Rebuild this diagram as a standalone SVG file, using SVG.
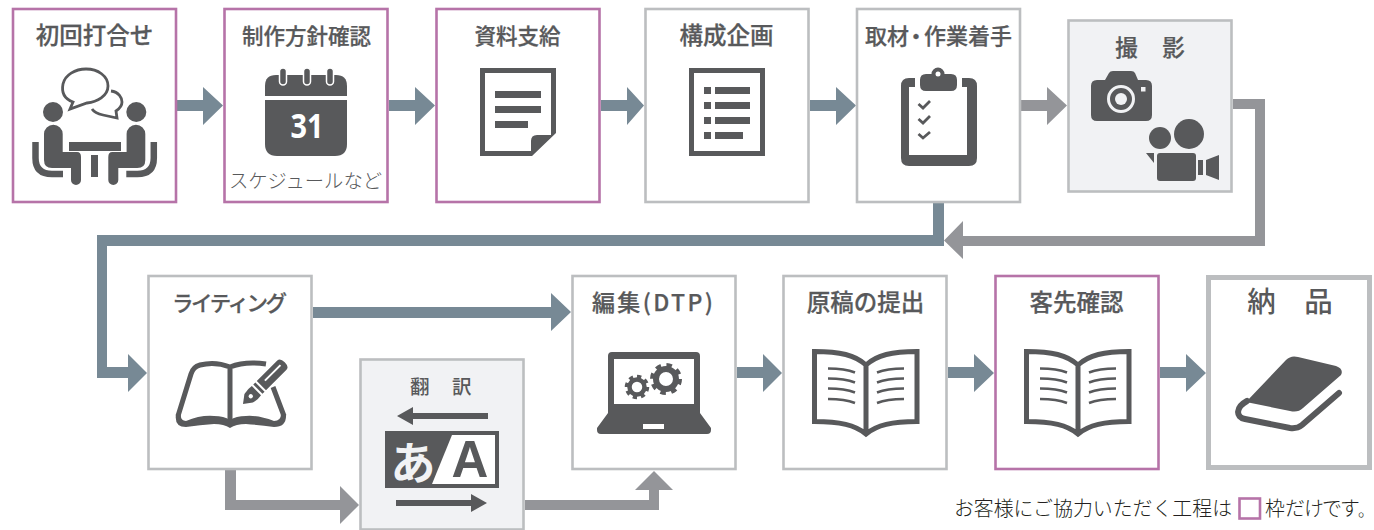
<svg xmlns="http://www.w3.org/2000/svg" xmlns:xlink="http://www.w3.org/1999/xlink" width="1374" height="530" viewBox="0 0 1374 530">
<style>
text{font-family:"Noto Sans CJK JP","Noto Sans",sans-serif;fill:#58595b;text-anchor:middle}
.t{font-size:21.5px;font-weight:500;stroke:#58595b;stroke-width:.25px}
.b{font-size:23.5px}
.box{fill:#fff;stroke-width:2.6}
.p{stroke:#b673a8}
.g{stroke:#bcbec0}
.s{fill:#f1f2f4}
.d{fill:#58595b}
.o{fill:none;stroke:#58595b}
.blue{fill:#778995}
.grey{fill:#949599}
</style>
<defs>
<symbol id="openbook" overflow="visible">
<path class="o" stroke-width="5" d="M866 365C855 355 840 351.500 814.500 351.500V421.500C840 421.500 855 425 866 434C877 425 892 421.500 917 421.500V351.500C892 351.500 877 355 866 365V434"/>
<path class="o" stroke-width="2.500" d="M828 368.500Q845 368.500 855 372.500M828 378.500Q845 378.500 855 382.500M828 388.500Q845 388.500 855 392.500M828 399Q845 399 855 403M904 368.500Q887 368.500 877 372.500M904 378.500Q887 378.500 877 382.500M904 388.500Q887 388.500 877 392.500M904 399Q887 399 877 403"/>
</symbol>
<g id="sitter">
<circle class="d" cx="53" cy="112" r="10"/>
<path class="d" d="M44 134a9.300 9.300 0 0 1 18.700 0V152H77Q81 152 81 157V180a5 5 0 0 1-10 0V168H52Q44 168 44 160Z"/>
<path class="o" stroke-width="6.500" d="M35.500 142V158Q35.500 174 52 174H63"/>
</g>
</defs>
<g id="connectors">
<path class="blue" d="M177 100H203V87L223 105.500L203 125V111H177Z"/>
<path class="blue" d="M389 100H415V87L435 105.500L415 125V111H389Z"/>
<path class="blue" d="M601 100H627V87L644 105.500L627 125V111H601Z"/>
<path class="blue" d="M810 100H836V87L856 105.500L836 125V111H810Z"/>
<path class="grey" d="M1021 100H1047V87L1067 105.500L1047 125V111H1021Z"/>
<path class="grey" d="M1233 99H1265V246H963V259L944 240.500L963 221V236H1255V109H1233Z"/>
<path class="blue" d="M933 203H944V246H107V367H128V354L147 373L128 392V378H97V235H933Z"/>
<path class="blue" d="M313 307H551V293L571 312L551 331V318H313Z"/>
<path class="grey" d="M225 470H236V500H340V486L359 505L340 524V510H225Z"/>
<path class="grey" d="M525 500H649V490H635L654 471L673 490H659V510H525Z"/>
<path class="blue" d="M737 367H763V354L782 373L763 392V378H737Z"/>
<path class="blue" d="M948 367H974V354L994 373L974 392V378H948Z"/>
<path class="blue" d="M1160 367H1186V354L1206 373L1186 392V378H1160Z"/>
</g>
<g id="n1">
<rect class="box p" x="13" y="9" width="163" height="193"/>
<text class="t b" x="94.500" y="44">初回打合せ</text>
<path class="o" stroke-width="2.800" d="M73 102C62 98 62 89 63 84C65 75 75 69 86 69C98 69 108 76 108 86C108 96 97 102 87 103L70 109Z"/>
<path class="o" stroke-width="2.800" d="M111 91C119 92 122 98 122 102C122 106 119 109 116 111L117 118L103 115C98 114 94 112 92 109"/>
<use xlink:href="#sitter"/>
<use xlink:href="#sitter" transform="translate(189.300) scale(-1 1)"/>
<rect class="d" x="69" y="142" width="52" height="9"/>
<rect class="d" x="91" y="155" width="7" height="22"/>
</g>
<g id="n2">
<rect class="box p" x="224.500" y="9" width="163" height="193"/>
<text class="t" x="306.500" y="44">制作方針確認</text>
<path class="d" d="M265 96V86Q265 75 276 75H336Q347 75 347 86V96Z"/>
<path class="d" d="M265 100H347V144Q347 156 335 156H277Q265 156 265 144Z"/>
<g fill="#58595b" stroke="#fff" stroke-width="1.500">
<rect x="279.500" y="68" width="7" height="17" rx="3.500"/>
<rect x="303.500" y="68" width="7" height="17" rx="3.500"/>
<rect x="326.500" y="68" width="7" height="17" rx="3.500"/>
</g>
<text x="307" y="138" textLength="33" lengthAdjust="spacingAndGlyphs" style="font-size:34px;font-weight:700;fill:#fff;font-family:'Open Sans',sans-serif">31</text>
<text x="305.500" y="188" style="font-size:19.300px;font-weight:300">スケジュールなど</text>
</g>
<g id="n3">
<rect class="box p" x="436.500" y="9" width="163" height="193"/>
<text class="t" x="517.500" y="44">資料支給</text>
<path class="d" fill-rule="evenodd" d="M480 68H556V133L532 156H480ZM485 73V151H531V141Q531 135 537 135H551V73Z"/>
<path class="d" d="M495 91H541V98H495ZM495 106H541V113H495ZM495 121H528V128H495Z"/>
</g>
<g id="n4">
<rect class="box g" x="645.500" y="9" width="163" height="193"/>
<text class="t b" x="726.500" y="44">構成企画</text>
<rect class="o" x="691.500" y="70.500" width="71" height="83" stroke-width="5"/>
<path class="d" d="M704 87h7v7h-7zM715 87h35v7h-35zM704 102h7v7h-7zM715 102h35v7h-35zM704 117h7v7h-7zM715 117h35v7h-35zM704 132h7v7h-7zM715 132h28v7h-28z"/>
</g>
<g id="n5">
<rect class="box g" x="857" y="9" width="163" height="193"/>
<text class="t" x="865 887 905 924 946 968 990" y="44" style="text-anchor:start;font-size:22px">取材・作業着手</text>
<path class="d" d="M915 78V87H909V155H967V87H962V78H969Q977 78 977 86V158Q977 166 969 166H909Q901 166 901 158V86Q901 78 909 78Z"/>
<path class="d" d="M926 74H931.500A6.500 6.500 0 0 1 944.500 74H951Q957 74 957 80V85Q957 91 951 91H926Q920 91 920 85V80Q920 74 926 74Z"/>
<circle cx="938" cy="74" r="2.500" fill="#fff"/>
<path class="o" stroke-width="2.800" d="M918.500 104L923 108L930 101M918.500 119L923 123L930 116M918.500 134L923 138L930 132"/>
</g>
<g id="n6">
<rect class="box g s" x="1068.500" y="20.500" width="163" height="171"/>
<text class="t" x="1150.500" y="56" style="font-size:22.500px;letter-spacing:1px">撮　影</text>
<path class="d" d="M1097 80H1105L1109 73Q1110 71 1113 71H1131Q1134 71 1135 73L1138 80H1146Q1152 80 1152 86V115Q1152 121 1146 121H1097Q1091 121 1091 115V86Q1091 80 1097 80Z"/>
<circle cx="1121" cy="99" r="12.500" fill="none" stroke="#f1f2f4" stroke-width="3"/>
<circle cx="1121" cy="99" r="6" fill="#f1f2f4"/>
<rect x="1141" y="87" width="4.500" height="4.500" fill="#f1f2f4"/>
<circle class="d" cx="1189" cy="134" r="15"/>
<circle class="d" cx="1160" cy="138" r="11"/>
<rect class="d" x="1157" y="153" width="39" height="28" rx="3"/>
<path class="d" d="M1146 153H1154V163ZM1198 160H1203V175H1198ZM1206 160L1219 155V180L1206 175Z"/>
</g>
<g id="n7">
<rect class="box g" x="148.500" y="276" width="163" height="193"/>
<text class="t" x="229.500" y="311" textLength="115" lengthAdjust="spacing">ライティング</text>
<path class="o" stroke-width="5" stroke-linejoin="round" d="M230 367Q215 361 200 365Q193 367 191 374L178 416M230 367Q245 361 266 364M230 367V424M273 387L284 416"/>
<path class="d" d="M176 414Q174 427 186 427Q200 425 214 424Q224 424 230 428Q236 424 246 424Q260 425 274 427Q287 427 286 414L281 414Q281 421 274 421Q258 415 246 416Q236 416 230 420Q224 416 214 416Q200 415 186 421Q180 421 181 414Z"/>
<g transform="translate(243 404) rotate(-45)">
<path class="d" d="M0 0L8 -6Q14 -7.500 19 -6.500V6.500Q14 7.500 8 6Z"/>
<circle cx="11" cy="0" r="2.200" fill="#fff"/>
<path class="d" d="M21 -6.500H24V6.500H21ZM26 -6.500H55Q59 -6.500 59 0Q59 6.500 55 6.500H26Z"/>
<rect x="32" y="-2" width="22" height="2" fill="#fff"/>
</g>
</g>
<g id="n8">
<rect class="box g s" x="360.500" y="359.500" width="163" height="170"/>
<text x="441.500" y="394" style="font-size:19.500px;font-weight:500;letter-spacing:1.500px">翻　訳</text>
<path class="d" d="M397 416L413 407V413H488V419H413V425Z"/>
<path class="d" d="M396 500H471V494L487 503L471 512V506H396Z"/>
<rect class="d" x="385" y="431" width="114" height="57"/>
<path d="M452 435H495V484H432Z" fill="#fff"/>
<text x="413" y="480" style="font-size:45px;font-weight:700;fill:#f1f2f4">あ</text>
<text x="470" y="477" style="font-size:51px;font-weight:700;font-family:'Liberation Sans',sans-serif">A</text>
</g>
<g id="n9">
<rect class="box g" x="572.500" y="276" width="163" height="193"/>
<text class="t" x="652.500" y="311" textLength="121" lengthAdjust="spacing" style="font-size:23px">編集(DTP)</text>
<path class="d" fill-rule="evenodd" d="M612 352H696Q700 352 700 356V413L711 428V430Q711 434 707 434H601Q597 434 597 430V428L608 413V356Q608 352 612 352ZM614 359V404H694V359ZM643 424V429H664V424Z"/>
<circle class="o" cx="637" cy="387" r="7.500" stroke-width="4.500"/>
<circle class="o" cx="637" cy="387" r="10.500" stroke-width="3.500" stroke-dasharray="4.200 4"/>
<circle class="o" cx="666" cy="379" r="10" stroke-width="6"/>
<circle class="o" cx="666" cy="379" r="14" stroke-width="4" stroke-dasharray="5.500 5.500"/>
</g>
<g id="n10">
<rect class="box g" x="783.500" y="276" width="163" height="193"/>
<text class="t b" x="865.500" y="311">原稿の提出</text>
<use xlink:href="#openbook"/>
</g>
<g id="n11">
<rect class="box p" x="995.500" y="276" width="163" height="193"/>
<text class="t b" x="1076.500" y="311">客先確認</text>
<use xlink:href="#openbook" x="212"/>
</g>
<g id="n12">
<rect class="box" x="1208.500" y="277.500" width="161" height="190" style="stroke:#bcbec0;stroke-width:5"/>
<text x="1290" y="312" style="font-size:28.500px;font-weight:500">納　品</text>
<path class="d" d="M1286 360Q1291 355 1298 357L1336 366Q1344 369 1341 375L1303 408Q1298 413 1290 411L1246 402Z"/>
<path class="o" stroke-width="6" stroke-linecap="round" d="M1247 401C1236 407 1235 417 1245 419L1290 428Q1297 429 1302 425L1339 393"/>
</g>
<g id="legend">
<text x="1093" y="516" style="font-size:19.900px;fill:#231f20;font-weight:300">お客様にご協力いただく工程は</text>
<rect x="1239.500" y="498.500" width="20.500" height="20" fill="#fff" stroke="#b673a8" stroke-width="2.600"/>
<text x="1265 1285 1304 1322 1340" y="516" style="font-size:19.900px;fill:#231f20;font-weight:300;text-anchor:start">枠だけです<tspan x="1358" style="font-size:16px">。</tspan></text>
</g>
</svg>
